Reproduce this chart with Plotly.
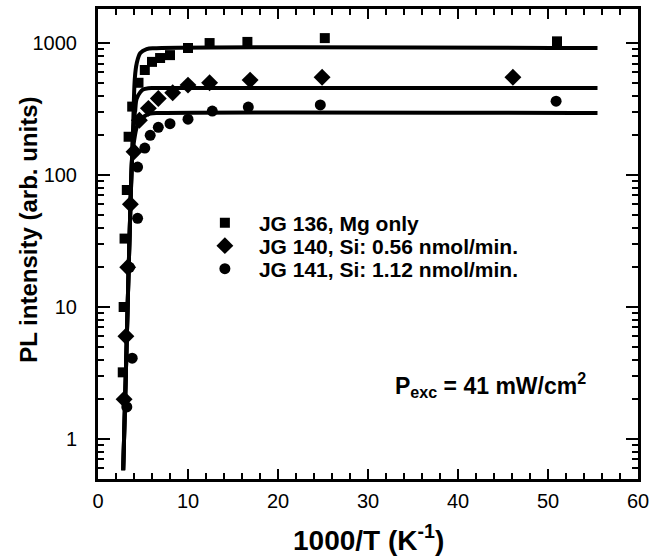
import plotly.graph_objects as go

# ---- data ----
sq_x = [2.75, 2.85, 2.95, 3.2, 3.4, 3.8, 4.5, 5.2, 6.0, 6.9, 8.0, 10.0, 12.4, 16.6, 25.2, 51.0]
sq_y = [3.2, 10, 33, 77, 195, 330, 500, 625, 720, 770, 810, 917, 1000, 1020, 1090, 1030]

di_x = [2.9, 3.1, 3.3, 3.6, 4.0, 4.6, 5.6, 6.7, 8.3, 10.0, 12.4, 16.9, 24.9, 46.1]
di_y = [2.0, 6, 20, 60, 150, 260, 320, 380, 420, 480, 500, 524, 550, 550]

ci_x = [3.2, 3.8, 3.5, 4.4, 4.4, 5.2, 5.8, 6.7, 8.0, 10.0, 12.7, 16.7, 24.7, 50.9]
ci_y = [1.75, 4.1, 20, 47, 115, 160, 200, 230, 245, 265, 305, 327, 340, 363]

# fit curves
fit_sq_x = [2.8, 3.2, 3.6, 3.9, 4.1, 4.3, 4.7, 5.4, 6.5, 55.5]
fit_sq_y = [0.58, 5.8, 58, 230, 550, 700, 840, 900, 914, 916]
fit_di_x = [2.8, 3.2, 3.6, 3.9, 4.1, 4.3, 4.7, 5.0, 5.6, 6.5, 55.5]
fit_di_y = [0.58, 5.8, 58, 200, 300, 380, 425, 445, 455, 456, 456]
fit_ci_x = [2.8, 3.2, 3.6, 3.8, 4.0, 4.3, 4.7, 5.2, 5.8, 7.0, 55.5]
fit_ci_y = [0.58, 5.8, 58, 140, 180, 230, 262, 280, 292, 295, 295]

names = ["JG 136, Mg only", "JG 140, Si: 0.56 nmol/min.", "JG 141, Si: 1.12 nmol/min."]

FONT = "Liberation Sans, Arial, Helvetica, sans-serif"

fig = go.Figure()
for fx, fy in [(fit_sq_x, fit_sq_y), (fit_di_x, fit_di_y), (fit_ci_x, fit_ci_y)]:
    fig.add_trace(go.Scatter(x=fx, y=fy, mode="lines", line=dict(color="black", width=4, shape="spline"),
                             showlegend=False, hoverinfo="skip"))

for xs, ys, sym, size, nm, lg in [(sq_x, sq_y, "square", 10, names[0], "legend"),
                                   (di_x, di_y, "diamond", 13, names[1], "legend2"),
                                   (ci_x, ci_y, "circle", 11, names[2], "legend3")]:
    fig.add_trace(go.Scatter(x=xs, y=ys, mode="markers", name=nm, legend=lg,
                             marker=dict(symbol=sym, size=size, color="black", line=dict(width=0))))

leg_common = dict(x=0.172, xanchor="left", yanchor="middle", bgcolor="rgba(0,0,0,0)",
                  font=dict(size=21, weight="bold", family=FONT, color="black"), itemwidth=58)

fig.update_layout(
    width=651, height=557,
    margin=dict(l=98, r=13, t=9, b=78),
    paper_bgcolor="white", plot_bgcolor="white",
    font=dict(family=FONT, color="black"),
    showlegend=True,
    legend=dict(y=0.5447, **leg_common),
    legend2=dict(y=0.4957, **leg_common),
    legend3=dict(y=0.4468, **leg_common),
    annotations=[
        dict(text="P<sub>exc</sub> = 41 mW/cm<sup>2</sup>", x=0.726, y=0.2,
             xref="paper", yref="paper", xanchor="center", yanchor="middle", showarrow=False,
             font=dict(size=23, weight="bold", family=FONT)),
        dict(text="1000/T (K<sup>-1</sup>)", x=0.5, y=-0.1255, xref="paper", yref="paper",
             xanchor="center", yanchor="middle", showarrow=False,
             font=dict(size=28, weight="bold", family=FONT)),
        dict(text="PL intensity (arb. units)", x=-0.128, y=0.53, xref="paper", yref="paper",
             xanchor="center", yanchor="middle", textangle=-90, showarrow=False,
             font=dict(size=24, weight="bold", family=FONT)),
    ],
)

fig.update_xaxes(range=[0, 60], tickmode="linear", tick0=0, dtick=10,
                 ticks="inside", ticklen=10, tickwidth=2, tickcolor="black",
                 minor=dict(ticks="inside", ticklen=6, tickwidth=2, dtick=2, tick0=0, tickcolor="black"),
                 showline=True, linewidth=3, linecolor="black", mirror="ticks",
                 showgrid=False, zeroline=False, automargin=False,
                 tickfont=dict(size=20), ticklabelstandoff=2)

fig.update_yaxes(type="log", range=[-0.303, 3.258], tickmode="linear", tick0=0, dtick=1,
                 ticks="inside", ticklen=12, tickwidth=2, tickcolor="black",
                 minor=dict(ticks="inside", ticklen=6, tickwidth=2, dtick="D1", tickcolor="black"),
                 showline=True, linewidth=3, linecolor="black", mirror="ticks",
                 showgrid=False, zeroline=False, automargin=False,
                 tickfont=dict(size=20), ticklabelstandoff=14)

fig.write_html("out.html", config={"displayModeBar": False},
               post_script="document.body.style.margin='0';document.body.style.overflow='hidden';")
